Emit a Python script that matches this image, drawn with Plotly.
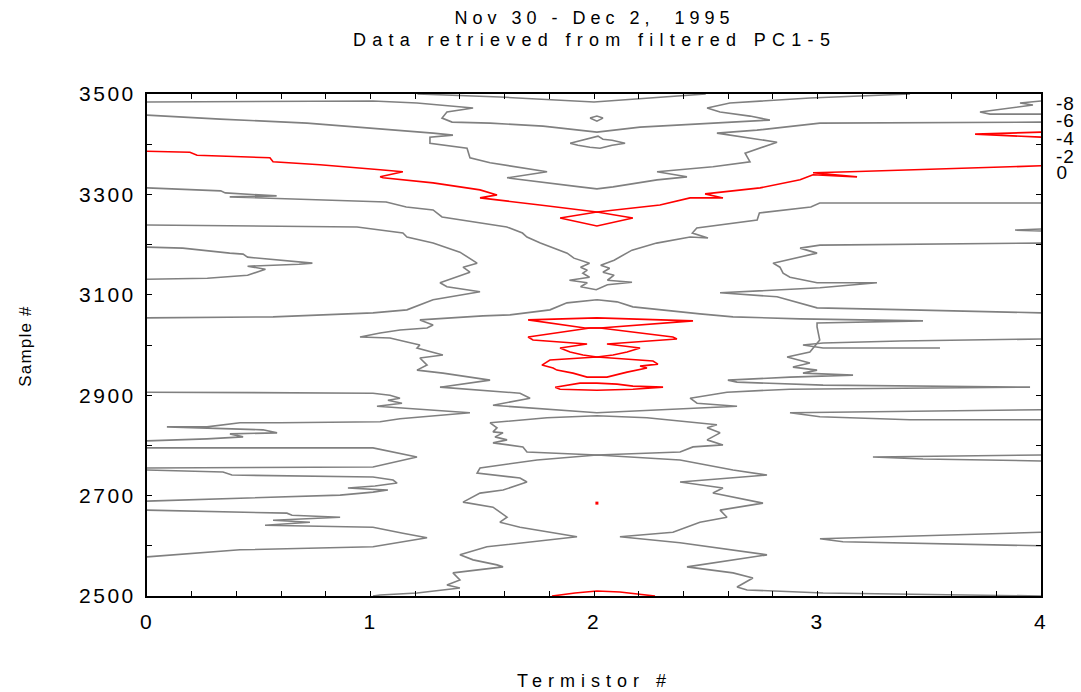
import plotly.graph_objects as go

# ---------------- data ----------------
x_tick_vals = [0, 0.2, 0.4, 0.6, 0.8, 1, 1.2, 1.4, 1.6, 1.8, 2, 2.2, 2.4, 2.6, 2.8, 3, 3.2, 3.4, 3.6, 3.8, 4]
x_tick_text = ["0", "", "", "", "", "1", "", "", "", "", "2", "", "", "", "", "3", "", "", "", "", "4"]
y_tick_vals = [2500, 2600, 2700, 2800, 2900, 3000, 3100, 3200, 3300, 3400, 3500]
y_tick_text = ["2500", "", "2700", "", "2900", "", "3100", "", "3300", "", "3500"]
level_labels = ["-8", "-6", "-4", "-2", "0"]
title_lines = ["Nov 30 - Dec 2,  1995", "Data retrieved from filtered PC1-5"]
x_title = "Termistor #"
y_title = "Sample #"

# gray contour lines
g1_x = [1.21, 1.58, 2.0, 2.25, 2.5]
g1_y = [3500, 3494, 3484, 3492, 3500]

g2_x = [0, 1.011, 1.208, 1.459, 1.342, 1.320, 1.365, 1.535, 1.772, 2.013, 2.206, 2.564, 2.787, 2.698, 2.564, 2.506, 2.608, 2.966, 3.414]
g2_y = [3484, 3486, 3482, 3472, 3464, 3452, 3444, 3442, 3436, 3424, 3434, 3442, 3448, 3456, 3464, 3472, 3482, 3492, 3500]

loop_small_x = [1.982, 2.013, 2.040, 2.013, 1.982]
loop_small_y = [3452, 3456, 3452, 3446, 3452]

loop_center_x = [1.893, 1.951, 1.982, 2.018, 2.040, 2.081, 2.139, 2.081, 2.027, 1.982, 1.928, 1.893]
loop_center_y = [3402, 3408, 3412, 3416, 3410, 3408, 3402, 3398, 3392, 3394, 3398, 3402]

g3_x = [0, 0.327, 0.716, 1.011, 1.280, 1.369, 1.266, 1.266, 1.432, 1.445, 1.535, 1.790, 1.611, 1.937, 2.013, 2.085,
        2.282, 2.416, 2.282, 2.532, 2.698, 2.676, 2.787, 2.819, 2.550, 2.729, 3.011, 4.0]
g3_y = [3458, 3450, 3442, 3432, 3422, 3418, 3414, 3402, 3392, 3373, 3363, 3345, 3333, 3315, 3311, 3315,
        3329, 3335, 3345, 3355, 3365, 3382, 3398, 3404, 3422, 3428, 3442, 3444]

wedge_tr_x = [4, 3.906, 3.964, 3.727, 3.772, 4]
wedge_tr_y = [3486, 3482, 3478, 3464, 3460, 3460]

wedge_r_x = [4, 3.884, 4]
wedge_r_y = [3231, 3229, 3227]

g4_x = [0, 0.33, 0.35, 0.58, 0.37, 1.07, 1.16, 1.28, 1.32, 1.61, 1.68, 1.70, 1.76, 1.88, 1.91, 1.98, 1.94, 1.97, 1.95,
        1.98, 1.89, 1.97, 1.94, 2.01, 2.06, 2.17, 2.06, 2.09, 2.04, 2.07, 2.03, 2.09, 2.17, 2.28, 2.43, 2.51, 2.44,
        2.46, 2.73, 2.74, 2.97, 3.01, 4.0]
g4_y = [3313, 3307, 3303, 3297, 3295, 3285, 3275, 3269, 3255, 3235, 3223, 3215, 3203, 3183, 3173, 3163, 3155, 3149, 3143,
        3135, 3129, 3124, 3116, 3110, 3120, 3125, 3129, 3139, 3145, 3153, 3159, 3169, 3189, 3203, 3215, 3213, 3223,
        3233, 3249, 3263, 3275, 3283, 3283]

g5_x = [0, 0.16, 0.37, 0.43, 0.45, 0.68, 0.74, 0.68, 0.45, 0.53, 0.45, 0.27, 0]
g5_y = [3195, 3193, 3183, 3181, 3175, 3165, 3163, 3161, 3157, 3151, 3139, 3133, 3131]

g7_x = [0, 0.940, 1.145, 1.163, 1.280, 1.400, 1.477, 1.414, 1.445, 1.311, 1.342, 1.490, 1.280, 1.163, 1.011, 0.564, 0]
g7_y = [3239, 3235, 3223, 3215, 3203, 3185, 3163, 3155, 3145, 3124, 3116, 3106, 3090, 3070, 3064, 3056, 3054]

dome_x = [2.013, 1.879, 1.803, 1.624, 1.503, 1.221, 1.280, 1.253, 1.132, 1.043, 0.953, 1.087, 1.163, 1.221, 1.208,
          1.324, 1.221, 1.253, 1.208, 1.324, 1.535, 1.311, 1.669, 1.714, 1.548, 2.013,
          2.640, 2.461, 2.430, 2.595, 2.877, 3.951, 3.025, 2.640, 2.599, 2.877, 3.159, 2.935, 2.998, 2.890, 2.966,
          2.864, 2.966, 3.010, 2.998, 2.998, 3.472, 2.922, 2.622, 2.474, 2.174, 2.103, 2.013]
dome_y = [3090, 3084, 3070, 3060, 3058, 3050, 3040, 3034, 3030, 3024, 3016, 3014, 3006, 3000, 2994,
          2980, 2974, 2960, 2950, 2944, 2930, 2916, 2904, 2894, 2880, 2865,
          2878, 2884, 2894, 2906, 2912, 2916, 2920, 2926, 2930, 2936, 2940, 2944, 2950, 2956, 2964,
          2976, 2986, 3010, 3036, 3044, 3048, 3052, 3056, 3062, 3076, 3086, 3090]

gr1_x = [4, 3.011, 2.922, 2.998, 2.801, 2.832, 2.846, 2.877, 2.998, 3.266, 3.011, 2.564, 2.819, 2.998, 3.414, 4]
gr1_y = [3203, 3199, 3193, 3183, 3163, 3155, 3143, 3135, 3124, 3124, 3114, 3104, 3096, 3074, 3070, 3064]

gr2_x = [4, 3.369, 3.025, 2.935, 3.025, 3.548]
gr2_y = [3012, 3008, 3004, 3000, 2994, 2994]

l2900_x = [0, 1.011, 1.087, 1.132, 1.078, 1.141, 1.029, 1.445, 1.132, 1.043, 0.595, 0.416, 0.268, 0.089, 0.519,
           0.582, 0.371, 0.430, 0.268, 0]
l2900_y = [2906, 2904, 2900, 2894, 2890, 2884, 2878, 2865, 2853, 2847, 2845, 2845, 2837, 2837, 2831,
           2825, 2823, 2817, 2813, 2809]

l2790_x = [0, 1.011, 1.208, 1.011, 0]
l2790_y = [2795, 2795, 2777, 2757, 2755]

l2740_x = [0, 0.340, 0.380, 1.011, 1.101, 1.119, 1.020, 0.899, 1.078, 1.011, 0.864, 0.461, 0]
l2740_y = [2751, 2747, 2741, 2737, 2731, 2725, 2719, 2715, 2711, 2707, 2701, 2695, 2689]

l2640_x = [0, 0.626, 0.649, 0.864, 0.564, 0.729, 0.528, 1.011, 1.145, 1.253, 1.011, 0.416, 0]
l2640_y = [2671, 2665, 2661, 2657, 2651, 2647, 2641, 2637, 2625, 2616, 2598, 2592, 2578]

oval_x = [2.013, 1.790, 1.535, 1.566, 1.548, 1.593, 1.557, 1.611, 1.548, 1.682, 1.700, 2.013, 2.385, 2.443,
          2.577, 2.506, 2.564, 2.506, 2.550, 2.237, 2.013]
oval_y = [2859, 2855, 2845, 2835, 2827, 2825, 2817, 2811, 2805, 2797, 2787, 2781, 2787, 2797,
          2801, 2811, 2825, 2835, 2841, 2855, 2859]

g11_x = [1.011, 1.043, 1.208, 1.400, 1.342, 1.400, 1.369, 1.593, 1.566, 1.459, 1.400, 1.521, 1.924, 1.669, 1.579,
         1.611, 1.548, 1.414, 1.490, 1.593, 1.700, 1.669, 1.477, 1.490, 1.745, 2.013, 2.385, 2.622, 2.774, 2.385,
         2.577, 2.532, 2.756, 2.564, 2.595, 2.474, 2.353, 2.116, 2.385, 2.774, 2.416, 2.622, 2.711, 2.640, 2.685,
         3.025, 4.0]
g11_y = [2500, 2502, 2506, 2516, 2522, 2532, 2546, 2558, 2562, 2572, 2582, 2598, 2618, 2637, 2647,
         2657, 2677, 2687, 2705, 2711, 2727, 2735, 2745, 2755, 2771, 2781, 2771, 2751, 2741, 2727,
         2715, 2705, 2685, 2671, 2657, 2647, 2627, 2618, 2606, 2582, 2558, 2546, 2536, 2518, 2512,
         2506, 2500]

rl1_x = [4, 2.877, 3.011, 3.414, 4]
rl1_y = [2871, 2865, 2857, 2851, 2851]
rl2_x = [4, 3.248, 3.472, 4]
rl2_y = [2781, 2777, 2773, 2769]
rl3_x = [4, 3.830, 3.011, 3.114, 4]
rl3_y = [2627, 2625, 2614, 2608, 2600]

# red contour lines
r1_x = [0, 0.192, 0.224, 0.550, 0.564, 0.774, 1.043, 1.145, 1.043, 1.056, 1.280, 1.490, 1.566, 1.490, 1.758, 2.013,
        2.295, 2.430, 2.577, 2.497, 2.743, 2.922, 2.980, 3.177, 2.980, 3.145, 4.0]
r1_y = [3386, 3384, 3378, 3373, 3365, 3359, 3349, 3345, 3335, 3333, 3323, 3309, 3299, 3293, 3279, 3265,
        3279, 3293, 3293, 3301, 3313, 3329, 3339, 3335, 3343, 3345, 3357]

diamond_x = [1.848, 2.013, 2.174, 2.013, 1.848]
diamond_y = [3253, 3265, 3253, 3237, 3253]

red_tr_x = [4, 3.705, 4]
red_tr_y = [3424, 3420, 3414]

ra_x = [1.705, 2.013, 2.443, 2.027, 1.960, 1.705]
ra_y = [3050, 3054, 3048, 3034, 3034, 3050]

rb_x = [1.982, 1.705, 1.727, 1.969, 1.848, 1.893, 1.951, 2.013, 2.085, 2.148, 2.206, 2.058, 2.371, 2.353, 2.027, 1.982]
rb_y = [3034, 3016, 3010, 3002, 2994, 2986, 2980, 2976, 2980, 2986, 2994, 3002, 3012, 3016, 3034, 3034]

rc_x = [2.013, 1.803, 1.767, 1.817, 1.834, 1.906, 1.969, 2.013, 2.058, 2.148, 2.237, 2.206, 2.286, 2.264, 2.027, 2.013]
rc_y = [2976, 2970, 2960, 2954, 2950, 2944, 2936, 2936, 2936, 2946, 2954, 2958, 2962, 2968, 2976, 2976]

rd_x = [1.826, 1.937, 2.013, 2.103, 2.174, 2.309, 2.174, 2.013, 1.848, 1.826]
rd_y = [2916, 2924, 2924, 2922, 2918, 2916, 2912, 2910, 2912, 2916]

r_bottom_x = [1.812, 1.915, 2.013, 2.116, 2.273]
r_bottom_y = [2500, 2506, 2510, 2508, 2500]

r_dot_x = [2.013]
r_dot_y = [2685]

GRAY = "rgb(128,128,128)"
RED = "rgb(255,0,0)"

gray_lines = [
    (g1_x, g1_y), (g2_x, g2_y), (loop_small_x, loop_small_y), (loop_center_x, loop_center_y),
    (g3_x, g3_y), (wedge_tr_x, wedge_tr_y), (wedge_r_x, wedge_r_y), (g4_x, g4_y), (g5_x, g5_y),
    (g7_x, g7_y), (dome_x, dome_y), (gr1_x, gr1_y), (gr2_x, gr2_y), (l2900_x, l2900_y),
    (l2790_x, l2790_y), (l2740_x, l2740_y), (l2640_x, l2640_y), (oval_x, oval_y), (g11_x, g11_y),
    (rl1_x, rl1_y), (rl2_x, rl2_y), (rl3_x, rl3_y),
]
red_lines = [
    (r1_x, r1_y), (diamond_x, diamond_y), (red_tr_x, red_tr_y), (ra_x, ra_y), (rb_x, rb_y),
    (rc_x, rc_y), (rd_x, rd_y), (r_bottom_x, r_bottom_y),
]

fig = go.Figure()
for xs, ys in gray_lines:
    fig.add_trace(go.Scatter(x=xs, y=ys, mode="lines", line=dict(color=GRAY, width=1.6),
                             showlegend=False, hoverinfo="skip"))
for xs, ys in red_lines:
    fig.add_trace(go.Scatter(x=xs, y=ys, mode="lines", line=dict(color=RED, width=1.6),
                             showlegend=False, hoverinfo="skip"))
fig.add_trace(go.Scatter(x=r_dot_x, y=r_dot_y, mode="markers",
                         marker=dict(color=RED, size=3, symbol="square"),
                         showlegend=False, hoverinfo="skip"))

FONT = "Liberation Sans, Arial, sans-serif"
L, R, T, B = 147, 40, 94, 96
PW, PH = 1081 - L - R, 692 - T - B

fig.update_layout(
    width=1081, height=692,
    margin=dict(l=L, r=R, t=T, b=B),
    paper_bgcolor="white", plot_bgcolor="white",
    font=dict(family=FONT, size=18, color="black"),
)
fig.update_xaxes(
    range=[0, 4], tickmode="array", tickvals=x_tick_vals, ticktext=x_tick_text,
    ticks="inside", ticklen=5, tickwidth=1, tickcolor="black",
    showline=True, linecolor="black", linewidth=2, mirror="ticks",
    showgrid=False, zeroline=False, ticklabelstandoff=6,
    tickfont=dict(family=FONT, size=21),
)
fig.update_yaxes(
    range=[2500, 3500], tickmode="array", tickvals=y_tick_vals, ticktext=y_tick_text,
    ticks="inside", ticklen=5, tickwidth=1, tickcolor="black",
    showline=True, linecolor="black", linewidth=2, mirror="ticks",
    showgrid=False, zeroline=False, ticklabelstandoff=5,
    tickfont=dict(family=FONT, size=21),
)

spacing = []
# title lines
for txt, py, s in zip(title_lines, [18, 40], [5, 6.3]):
    fig.add_annotation(text=txt, xref="paper", yref="paper", x=(594 - L) / PW, y=(692 - B - py) / PH,
                       xanchor="center", yanchor="middle", showarrow=False,
                       font=dict(family=FONT, size=18, color="black"))
    spacing.append(s)
# axis titles
fig.add_annotation(text=x_title, xref="paper", yref="paper", x=(594 - L) / PW, y=(692 - B - 681) / PH,
                   xanchor="center", yanchor="middle", showarrow=False,
                   font=dict(family=FONT, size=18, color="black"))
spacing.append(6)
fig.add_annotation(text=y_title, xref="paper", yref="paper", x=(25 - L) / PW, y=(692 - B - 346) / PH,
                   xanchor="center", yanchor="middle", showarrow=False, textangle=-90,
                   font=dict(family=FONT, size=17, color="black"))
spacing.append(1.2)
# level labels on the right
label_py = [103, 121, 138, 156, 172]
for lab, py in zip(level_labels, label_py):
    fig.add_annotation(text=lab, xref="paper", yref="paper",
                       x=(1055 - L) / PW, y=(692 - B - py) / PH,
                       xanchor="left", yanchor="middle", showarrow=False,
                       font=dict(family=FONT, size=19, color="black"))
    spacing.append(1)

post = """
var gd = document.getElementById('{plot_id}');
var sp = %s;
function applySpacing() {
  gd.querySelectorAll('.xtick text, .ytick text').forEach(function(t){ t.style.letterSpacing = '2.5px'; });
  gd.querySelectorAll('g.annotation').forEach(function(g){
    var i = parseInt(g.getAttribute('data-index'));
    var t = g.querySelector('text');
    if (t && sp[i] !== undefined) { t.style.letterSpacing = sp[i] + 'px'; }
  });
}
applySpacing();
if (gd.on) { gd.on('plotly_afterplot', applySpacing); }
""" % str(spacing)

fig.write_html("out.html", post_script=post)
